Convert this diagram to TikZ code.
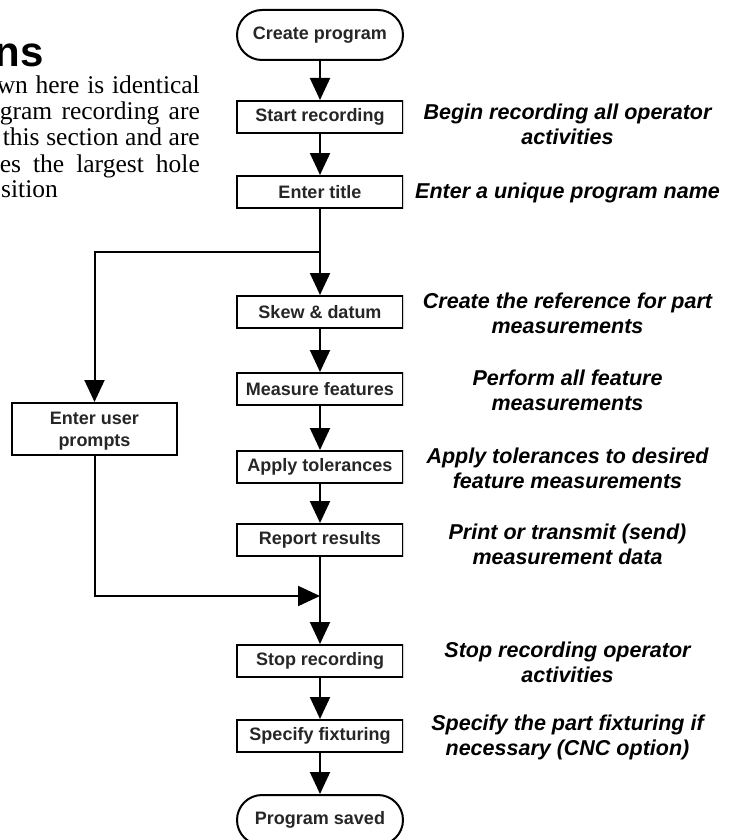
\documentclass[tikz,border=0pt]{standalone}
\usepackage{fontspec}
\setmainfont{Liberation Serif}
\setsansfont{Liberation Sans}
\usetikzlibrary{arrows.meta,shapes.misc}
\begin{document}
\begin{tikzpicture}[x=1pt,y=-1pt,
  box/.style={draw=black,line width=2pt,minimum width=166pt,minimum height=32pt,inner sep=0pt,
    font=\sffamily\bfseries\fontsize{18}{22}\selectfont,text=black!85,fill=white,align=center},
  term/.style={box,rounded rectangle,minimum height=50pt},
  note/.style={align=center,font=\sffamily\bfseries\itshape\fontsize{21.5}{25}\selectfont},
  body/.style={font=\rmfamily\fontsize{25.5}{26}\selectfont,inner sep=0pt},
  flow/.style={line width=2pt,-{Triangle[length=22pt,width=20pt]}},
  plain/.style={line width=2pt},
  edge/.style={gray!35,line width=2pt}
]
\useasboundingbox (0,0) rectangle (731,840);
\clip (0,0) rectangle (731,840);

% left page text (cut off)
\node[anchor=base east,inner sep=0pt,font=\sffamily\bfseries\fontsize{42}{44}\selectfont] (title) at (44,67) {ns};
\node[body,anchor=base east] (l1) at (200,94) {\makebox[203pt][s]{wn here is identical}};
\node[body,anchor=base east] (l2) at (200,120) {\makebox[200pt][s]{gram recording are}};
\node[body,anchor=base east] (l3) at (200,146) {\makebox[197pt][s]{this section and are}};
\node[body,anchor=base east] (l4) at (200,172) {\makebox[200pt][s]{es the largest hole}};
\node[body,anchor=base west] (l5) at (1,197) {sition};

% flowchart
\begin{scope}
\clip (0,0) rectangle (404,840);
\node[term] (cp) at (320,35) {Create program};
\node[box] (sr) at (320,117) {Start recording};
\node[box] (et) at (320,192) {Enter title};
\node[box] (sd) at (320,312) {Skew \& datum};
\node[box] (mf) at (320,389) {Measure features};
\node[box] (at) at (320,467) {Apply tolerances};
\node[box] (rr) at (320,540) {Report results};
\node[box] (st) at (320,661) {Stop recording};
\node[box] (sf) at (320,736) {Specify fixturing};
\node[term] (ps) at (320,820) {Program saved};
\node[box,minimum width=165pt,minimum height=52pt,text depth=0pt] (up) at (94.5,429) {Enter user\\prompts};

\coordinate (split) at (320,252);
\coordinate (splitl) at (up.north |- split);
\coordinate (join) at (320,596);
\coordinate (joinl) at (up.south |- join);

\draw[flow] (cp) -- (sr);
\draw[flow] (sr) -- (et);
\draw[flow] (et) -- (sd);
\draw[flow] (sd) -- (mf);
\draw[flow] (mf) -- (at);
\draw[flow] (at) -- (rr);
\draw[flow] (rr) -- (st);
\draw[flow] (st) -- (sf);
\draw[flow] (sf) -- (ps);
\draw[flow] (split) -- (splitl) -- (up);
\draw[flow] (up) -- (joinl) -- (join);

\foreach \b in {sr,et,sd,mf,at,rr,st,sf}
  \draw[edge] (\b.north east) -- (\b.south east);
\end{scope}

% descriptions
\node[note] (n1) at (567.5,124) {Begin recording all operator\\activities};
\node[note] (n2) at (567.5,193) {Enter a unique program name};
\node[note] (n3) at (567.5,313) {Create the reference for part\\measurements};
\node[note] (n4) at (567.5,390) {Perform all feature\\measurements};
\node[note] (n5) at (567.5,468) {Apply tolerances to desired\\feature measurements};
\node[note] (n6) at (567.5,544) {Print or transmit (send)\\measurement data};
\node[note] (n7) at (567.5,662) {Stop recording operator\\activities};
\node[note] (n8) at (567.5,737) {Specify the part fixturing if\\necessary (CNC option)};
\end{tikzpicture}
\end{document}
